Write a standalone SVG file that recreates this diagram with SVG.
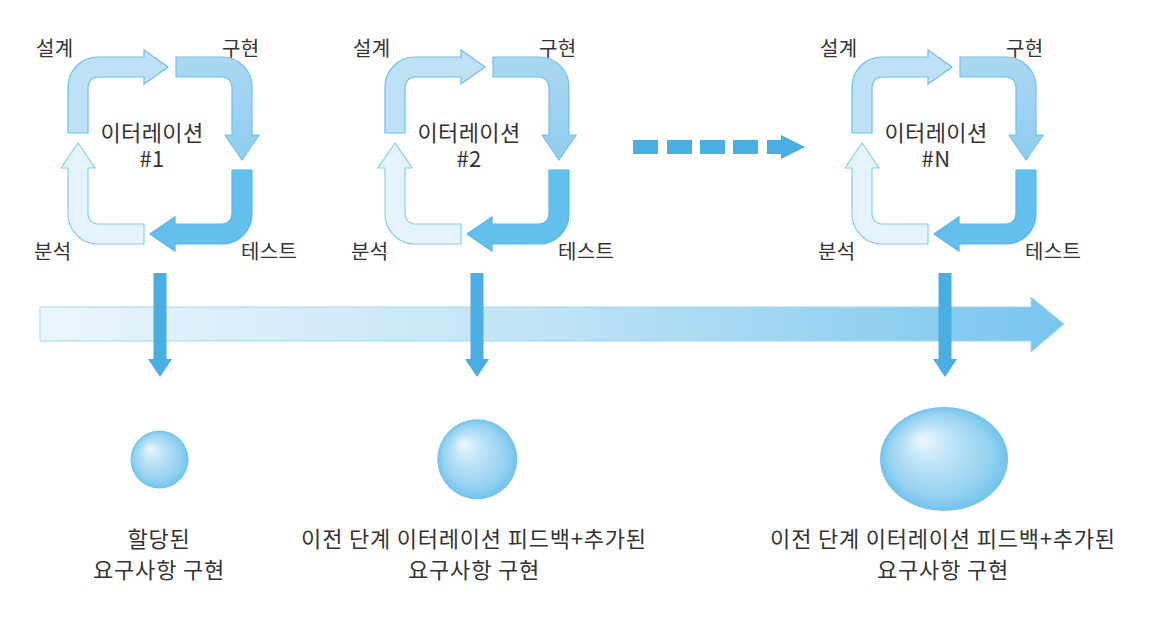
<svg xmlns="http://www.w3.org/2000/svg" xmlns:xlink="http://www.w3.org/1999/xlink" width="1150" height="640" viewBox="0 0 1150 640">
<style>
  text { font-family: "Noto Sans CJK KR", "Noto Sans", sans-serif; fill: #333333; }
  .lbl { font-size: 20px; letter-spacing: 0.3px; }
  .ctr { font-size: 22px; text-anchor: middle; letter-spacing: 0.4px; }
  .bot { font-size: 22px; text-anchor: middle; letter-spacing: 0.8px; }
  .p1 { fill: #bfe1f5; stroke: #6ebfea; stroke-width: 1.2; }
  .p2 { fill: url(#gImpl); stroke: #74c2ea; stroke-width: 1.2; }
  .p3 { fill: #63bfeb; stroke: #55b7e7; stroke-width: 1.2; }
  .p4 { fill: #e5f4fc; stroke: #8ccdee; stroke-width: 1.2; }
  .down { fill: #4aaee3; }
</style>
<defs>
  <linearGradient id="gImpl" x1="0" y1="0" x2="0" y2="1">
    <stop offset="0" stop-color="#a9d8f2"/>
    <stop offset="1" stop-color="#8fcdef"/>
  </linearGradient>
  <linearGradient id="gBand" x1="40" y1="0" x2="1064" y2="0" gradientUnits="userSpaceOnUse">
    <stop offset="0" stop-color="#eaf6fd"/>
    <stop offset="0.5" stop-color="#bfe3f6"/>
    <stop offset="1" stop-color="#78c5ee"/>
  </linearGradient>
  <radialGradient id="gSphere" cx="0.5" cy="0.5" r="0.5" fx="0.32" fy="0.3">
    <stop offset="0" stop-color="#eef8fe"/>
    <stop offset="0.35" stop-color="#bfe4f7"/>
    <stop offset="0.8" stop-color="#93d1f1"/>
    <stop offset="1" stop-color="#71c3ec"/>
  </radialGradient>
  <path id="pDesign" d="M68,133 L68,87 A30,30 0 0 1 98,57 L144,57 L144,50 L168,67 L144,84 L144,77 L98,77 A10,10 0 0 0 88,87 L88,133 Z"/>
  <path id="pImpl" d="M176,57 L222,57 A30,30 0 0 1 252,87 L252,135 L259,135 L242,160 L225,135 L232,135 L232,87 A10,10 0 0 0 222,77 L176,77 Z"/>
  <path id="pTest" d="M232,170 L252,170 L252,214 A30,30 0 0 1 222,244 L175,244 L175,251 L150,234 L175,217 L175,224 L222,224 A10,10 0 0 0 232,214 Z"/>
  <path id="pAnal" d="M144,224 L144,244 L98,244 A30,30 0 0 1 68,214 L68,168 L61,168 L78,143 L95,168 L88,168 L88,214 A10,10 0 0 0 98,224 Z"/>
</defs>

<rect x="0" y="0" width="1150" height="640" fill="#ffffff"/>

<g id="timeline">
  <path d="M40,307 L1031,307 L1031,297 L1064,324 L1031,352 L1031,341 L40,341 Z" fill="url(#gBand)" stroke="#a3d6f2" stroke-width="1"/>
</g>

<g id="iteration-1">
  <use xlink:href="#pDesign" class="p1"/>
  <use xlink:href="#pImpl" class="p2"/>
  <use xlink:href="#pTest" class="p3"/>
  <use xlink:href="#pAnal" class="p4"/>
  <text class="lbl" x="36" y="56">설계</text>
  <text class="lbl" x="222" y="56">구현</text>
  <text class="lbl" x="34" y="259">분석</text>
  <text class="lbl" x="241" y="259">테스트</text>
  <text class="ctr" x="152" y="141">이터레이션<tspan x="152" dy="26">#1</tspan></text>
</g>

<g id="iteration-2" transform="translate(317,0)">
  <use xlink:href="#pDesign" class="p1"/>
  <use xlink:href="#pImpl" class="p2"/>
  <use xlink:href="#pTest" class="p3"/>
  <use xlink:href="#pAnal" class="p4"/>
  <text class="lbl" x="36" y="56">설계</text>
  <text class="lbl" x="222" y="56">구현</text>
  <text class="lbl" x="34" y="259">분석</text>
  <text class="lbl" x="241" y="259">테스트</text>
  <text class="ctr" x="152" y="141">이터레이션<tspan x="152" dy="26">#2</tspan></text>
</g>

<g id="iteration-N" transform="translate(784,0)">
  <use xlink:href="#pDesign" class="p1"/>
  <use xlink:href="#pImpl" class="p2"/>
  <use xlink:href="#pTest" class="p3"/>
  <use xlink:href="#pAnal" class="p4"/>
  <text class="lbl" x="36" y="56">설계</text>
  <text class="lbl" x="222" y="56">구현</text>
  <text class="lbl" x="34" y="259">분석</text>
  <text class="lbl" x="241" y="259">테스트</text>
  <text class="ctr" x="152" y="141">이터레이션<tspan x="152" dy="26">#N</tspan></text>
</g>

<g id="connectors">
  <g id="dashed-arrow" fill="#4aaee3">
    <rect x="633" y="140" width="25" height="14"/>
    <rect x="667" y="140" width="25" height="14"/>
    <rect x="700" y="140" width="25" height="14"/>
    <rect x="733" y="140" width="25" height="14"/>
    <path d="M767,140 L781,140 L781,135 L805,147 L781,159 L781,154 L767,154 Z"/>
  </g>
  <path class="down" d="M153.5,273 L166.5,273 L166.5,359 L172,359 L160,377 L148,359 L153.5,359 Z"/>
  <path class="down" d="M470.5,273 L483.5,273 L483.5,359 L489,359 L477,377 L465,359 L470.5,359 Z"/>
  <path class="down" d="M938.5,273 L951.5,273 L951.5,359 L957,359 L945,377 L933,359 L938.5,359 Z"/>
</g>

<g id="result-1">
  <circle cx="159.5" cy="459.5" r="29" fill="url(#gSphere)"/>
  <text class="bot" x="159" y="547">할당된</text>
  <text class="bot" x="159" y="578">요구사항 구현</text>
</g>

<g id="result-2">
  <circle cx="477.3" cy="459.3" r="40" fill="url(#gSphere)"/>
  <text class="bot" x="474" y="547">이전 단계 이터레이션 피드백+추가된</text>
  <text class="bot" x="474" y="578">요구사항 구현</text>
</g>

<g id="result-N">
  <ellipse cx="944" cy="459" rx="64" ry="52" fill="url(#gSphere)"/>
  <text class="bot" x="943" y="547">이전 단계 이터레이션 피드백+추가된</text>
  <text class="bot" x="943" y="578">요구사항 구현</text>
</g>
</svg>
